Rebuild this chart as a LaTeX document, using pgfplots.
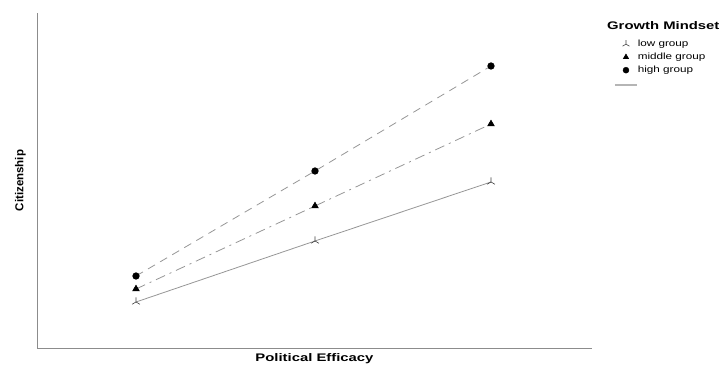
\documentclass[border=0pt]{standalone}
\usepackage{pgfplots}
\pgfplotsset{compat=1.18}
\usetikzlibrary{plotmarks}
\usepackage{fontspec}
\setmainfont{Liberation Sans}
\definecolor{axgray}{RGB}{140,140,140}
\definecolor{lngray}{RGB}{150,150,150}
\begin{document}
\begin{tikzpicture}
\path[use as bounding box] (0pt,0pt) rectangle (721pt,366pt);
\begin{axis}[
  at={(37pt,18pt)}, anchor=south west,
  scale only axis, width=555pt, height=335pt,
  xmin=37, xmax=592, ymin=18, ymax=353,
  axis x line*=bottom, axis y line*=left,
  x axis line style={-}, y axis line style={-},
  axis line style={draw=axgray, line width=0.7pt},
  xtick=\empty, ytick=\empty,
  clip=false,
  legend cell align=left,
  legend image code/.code={\draw[mark repeat=2,mark phase=2,#1] plot coordinates {(0pt,0pt)(11pt,0pt)(22pt,0pt)};},
  legend style={draw=none, fill=none, inner sep=0pt, row sep=0pt,
    at={(1.0396,0.9269)}, anchor=north west,
    nodes={inner sep=0pt, text height=9pt, text depth=4pt, font=\fontsize{9}{11}\selectfont},
    /tikz/every even column/.append style={column sep=5pt}},
]
\addplot[lngray, line width=0.8pt, mark=Mercedes star, mark size=4.5pt,
  mark options={draw=black!75, line width=0.6pt, solid}, forget plot]
  coordinates {(136,64) (315,125) (491,184)};
\addplot[lngray, line width=0.8pt, dash pattern=on 10pt off 5pt on 2pt off 5pt,
  mark=triangle*, mark size=3.6pt, mark options={fill=black, draw=black, solid}, forget plot]
  coordinates {(136,77) (315,160) (491,242)};
\addplot[lngray, line width=0.8pt, dash pattern=on 8pt off 6pt,
  mark=*, mark size=3.2pt, mark options={fill=black, draw=black, solid}, forget plot]
  coordinates {(136,90) (315,195) (491,300)};

\addlegendimage{only marks, mark=Mercedes star, mark size=4pt, mark options={draw=black!75, line width=0.6pt}}
\addlegendentry{\scalebox{1.3}[1]{low group}}
\addlegendimage{only marks, mark=triangle*, mark size=3.2pt, mark options={fill=black, draw=black}}
\addlegendentry{\scalebox{1.3}[1]{middle group}}
\addlegendimage{only marks, mark=*, mark size=3pt, mark options={fill=black, draw=black}}
\addlegendentry{\scalebox{1.3}[1]{high group}}
\addlegendimage{color=lngray!70, line width=1.6pt}
\addlegendentry[text height=13pt]{}

\node[anchor=base west, font=\bfseries\fontsize{11}{13}\selectfont, inner sep=0pt]
  at (axis description cs:1.027,0.952) {\scalebox{1.35}[1]{Growth Mindset}};
\node[anchor=base, font=\bfseries\fontsize{11}{13}\selectfont, inner sep=0pt]
  at (axis description cs:0.5,-0.0418) {\scalebox{1.35}[1]{Political Efficacy}};
\node[rotate=90, anchor=center, font=\bfseries\fontsize{11.5}{13}\selectfont, inner sep=0pt]
  at (axis description cs:-0.0297,0.5) {Citizenship};
\end{axis}
\end{tikzpicture}
\end{document}
